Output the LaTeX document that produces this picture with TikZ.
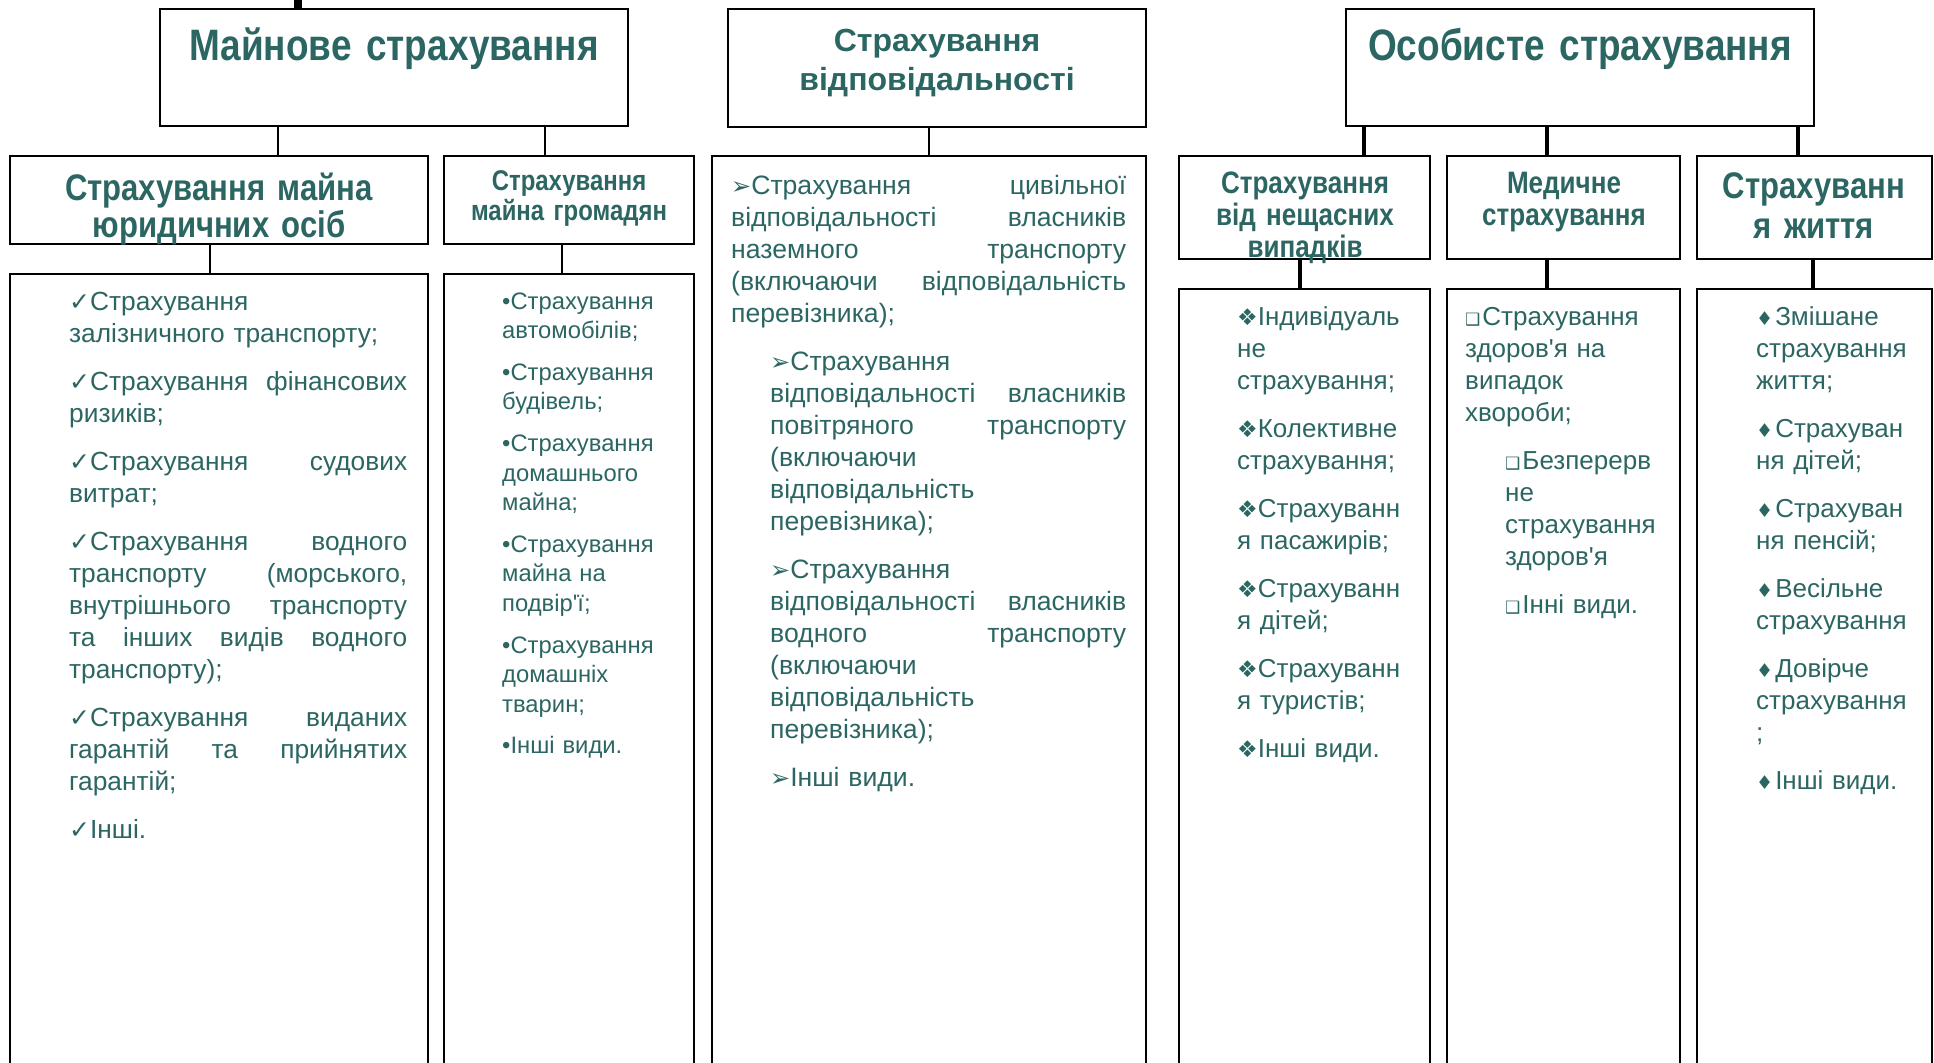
\documentclass[tikz,border=0pt]{standalone}
\usepackage{fontspec}
\setmainfont{Liberation Sans}
\newfontfamily\lf{Liberation Sans}
\newfontfamily\hb[FakeStretch=0.84]{Liberation Sans}
\newfontfamily\symf{DejaVu Sans}
\definecolor{tealtxt}{RGB}{44,102,99}
\newcommand\ckm{{\symf\fontsize{25}{25}\selectfont ✓}}
\newcommand\arm{{\symf\fontsize{24}{24}\selectfont ➢}}
\newcommand\dmm{{\symf\fontsize{23}{23}\selectfont ❖}}
\newcommand\sqm{{\symf\fontsize{17}{17}\selectfont ❑}\hspace{2pt}}
\newcommand\rdm{{\symf\fontsize{19}{19}\selectfont ♦}\hspace{2pt}}
\newcommand\ap{\textquotesingle}
\tikzset{
  box/.style={draw=black, line width=2.2pt, rectangle, inner sep=0pt, outer sep=0pt, anchor=north west},
  conn/.style={line width=2.6pt},
  connb/.style={line width=3.2pt},
  ttl/.style={anchor=base, inner sep=0pt, align=center, text=tealtxt},
  lst/.style={anchor=base west, inner sep=0pt, align=left, text=tealtxt},
}
\begin{document}
\begin{tikzpicture}[x=1pt,y=-1pt]
\useasboundingbox (0,0) rectangle (1934,1062);
\clip (0,0) rectangle (1934,1062);
% boxes
\node[box, minimum width=468pt, minimum height=117pt] (mayn) at (160,9) {};
\node[box, minimum width=418pt, minimum height=118pt] (vidp) at (728,9) {};
\node[box, minimum width=468pt, minimum height=117pt] (osob) at (1346,9) {};
\node[box, minimum width=418pt, minimum height=88pt] (yurh) at (10,156) {};
\node[box, minimum width=250pt, minimum height=88pt] (gromh) at (444,156) {};
\node[box, minimum width=434pt, minimum height=910pt] (vidpl) at (712,156) {};
\node[box, minimum width=251pt, minimum height=103pt] (neshh) at (1179,156) {};
\node[box, minimum width=233pt, minimum height=103pt] (medh) at (1447,156) {};
\node[box, minimum width=235pt, minimum height=103pt] (zhyth) at (1697,156) {};
\node[box, minimum width=418pt, minimum height=792pt] (yurl) at (10,274) {};
\node[box, minimum width=250pt, minimum height=792pt] (groml) at (444,274) {};
\node[box, minimum width=251pt, minimum height=777pt] (neshl) at (1179,289) {};
\node[box, minimum width=233pt, minimum height=777pt] (medl) at (1447,289) {};
\node[box, minimum width=235pt, minimum height=777pt] (zhytl) at (1697,289) {};
% connector columns
\coordinate (ctop) at (298,0);
\coordinate (c1) at (278,0);
\coordinate (c2) at (545,0);
\coordinate (c3) at (210,0);
\coordinate (c4) at (562,0);
\coordinate (c5) at (929,0);
\coordinate (c6) at (1364,0);
\coordinate (c7) at (1547,0);
\coordinate (c8) at (1798,0);
\coordinate (c9) at (1300,0);
\coordinate (c10) at (1813,0);
\draw[line width=8pt] (ctop) -- (mayn.north -| ctop);
\draw[conn] (mayn.south -| c1) -- (yurh.north -| c1);
\draw[conn] (mayn.south -| c2) -- (gromh.north -| c2);
\draw[conn] (yurh.south -| c3) -- (yurl.north -| c3);
\draw[conn] (gromh.south -| c4) -- (groml.north -| c4);
\draw[conn] (vidp.south -| c5) -- (vidpl.north -| c5);
\draw[connb] (osob.south -| c6) -- (neshh.north -| c6);
\draw[connb] (osob.south -| c7) -- (medh.north -| c7);
\draw[connb] (osob.south -| c8) -- (zhyth.north -| c8);
\draw[connb] (neshh.south -| c9) -- (neshl.north -| c9);
\draw[connb] (medh.south -| c7) -- (medl.north -| c7);
\draw[connb] (zhyth.south -| c10) -- (zhytl.north -| c10);
% titles
\node[ttl, text width=460pt, font=\hb\bfseries\fontsize{44}{48}\selectfont] (tmayn) at (394,61) {Майнове страхування};
\node[ttl, text width=410pt, font=\lf\bfseries\fontsize{32}{39}\selectfont] (tvidp) at (937,52) {Страхування\\відповідальності};
\node[ttl, text width=460pt, font=\hb\bfseries\fontsize{44}{48}\selectfont] (tosob) at (1580,61) {Особисте страхування};
\node[ttl, text width=410pt, font=\hb\bfseries\fontsize{37}{37}\selectfont] (tyurh) at (219,200) {Страхування майна\\юридичних осіб};
\node[ttl, text width=244pt, font=\hb\bfseries\fontsize{28.5}{30}\selectfont] (tgromh) at (569,190) {Страхування\\майна громадян};
\node[ttl, text width=244pt, font=\hb\bfseries\fontsize{31}{32}\selectfont] (tneshh) at (1305,193.5) {Страхування\\від нещасних\\випадків};
\node[ttl, text width=226pt, font=\hb\bfseries\fontsize{31}{32}\selectfont] (tmedh) at (1564,193.5) {Медичне\\страхування};
\node[ttl, text width=228pt, font=\hb\bfseries\fontsize{37}{40}\selectfont] (tzhyth) at (1814,198) {Страхуванн\\я життя};
% lists
\node[lst, text width=338pt, font=\lf\fontsize{26.3}{32}\selectfont] (tyurl) at (69,310) {%
\ckm Страхування\\
залізничного транспорту;\\[16pt]
\ckm Страхування\hfill фінансових\\
ризиків;\\[16pt]
\ckm Страхування\hfill судових\\
витрат;\\[16pt]
\ckm Страхування\hfill водного\\
транспорту\hfill (морського,\\
внутрішнього\hfill транспорту\\
та\hfill інших\hfill видів\hfill водного\\
транспорту);\\[16pt]
\ckm Страхування\hfill виданих\\
гарантій\hfill та\hfill прийнятих\\
гарантій;\\[16pt]
\ckm Інші.};
\node[lst, text width=185pt, font=\lf\fontsize{23.8}{29.6}\selectfont] (tgroml) at (502,309) {%
•Страхування\\
автомобілів;\\[12pt]
•Страхування\\
будівель;\\[12pt]
•Страхування\\
домашнього\\
майна;\\[12pt]
•Страхування\\
майна на\\
подвір\ap{}ї;\\[12pt]
•Страхування\\
домашніх\\
тварин;\\[12pt]
•Інші види.};
\node[lst, text width=395pt, font=\lf\fontsize{26.6}{32}\selectfont] (tvidpl) at (731,194) {%
\arm Страхування\hfill цивільної\\
відповідальності\hfill власників\\
наземного\hfill транспорту\\
(включаючи\hfill відповідальність\\
перевізника);\\[16pt]
\hspace*{39pt}\arm Страхування\\
\hspace*{39pt}відповідальності\hfill власників\\
\hspace*{39pt}повітряного\hfill транспорту\\
\hspace*{39pt}(включаючи\\
\hspace*{39pt}відповідальність\\
\hspace*{39pt}перевізника);\\[16pt]
\hspace*{39pt}\arm Страхування\\
\hspace*{39pt}відповідальності\hfill власників\\
\hspace*{39pt}водного\hfill транспорту\\
\hspace*{39pt}(включаючи\\
\hspace*{39pt}відповідальність\\
\hspace*{39pt}перевізника);\\[16pt]
\hspace*{39pt}\arm Інші види.};
\node[lst, text width=200pt, font=\lf\fontsize{26}{32}\selectfont] (tneshl) at (1237,325) {%
\dmm Індивідуаль\\
не\\
страхування;\\[16pt]
\dmm Колективне\\
страхування;\\[16pt]
\dmm Страхуванн\\
я пасажирів;\\[16pt]
\dmm Страхуванн\\
я дітей;\\[16pt]
\dmm Страхуванн\\
я туристів;\\[16pt]
\dmm Інші види.};
\node[lst, text width=210pt, font=\lf\fontsize{26}{32}\selectfont] (tmedl) at (1465,325) {%
\sqm Страхування\\
здоров\ap{}я на\\
випадок\\
хвороби;\\[16pt]
\hspace*{40pt}\sqm Безперерв\\
\hspace*{40pt}не\\
\hspace*{40pt}страхування\\
\hspace*{40pt}здоров\ap{}я\\[16pt]
\hspace*{40pt}\sqm Інні види.};
\node[lst, text width=175pt, font=\lf\fontsize{26}{32}\selectfont] (tzhytl) at (1756,325) {%
\rdm Змішане\\
страхування\\
життя;\\[16pt]
\rdm Страхуван\\
ня дітей;\\[16pt]
\rdm Страхуван\\
ня пенсій;\\[16pt]
\rdm Весільне\\
страхування\\[16pt]
\rdm Довірче\\
страхування\\
;\\[16pt]
\rdm Інші види.};
\end{tikzpicture}
\end{document}
